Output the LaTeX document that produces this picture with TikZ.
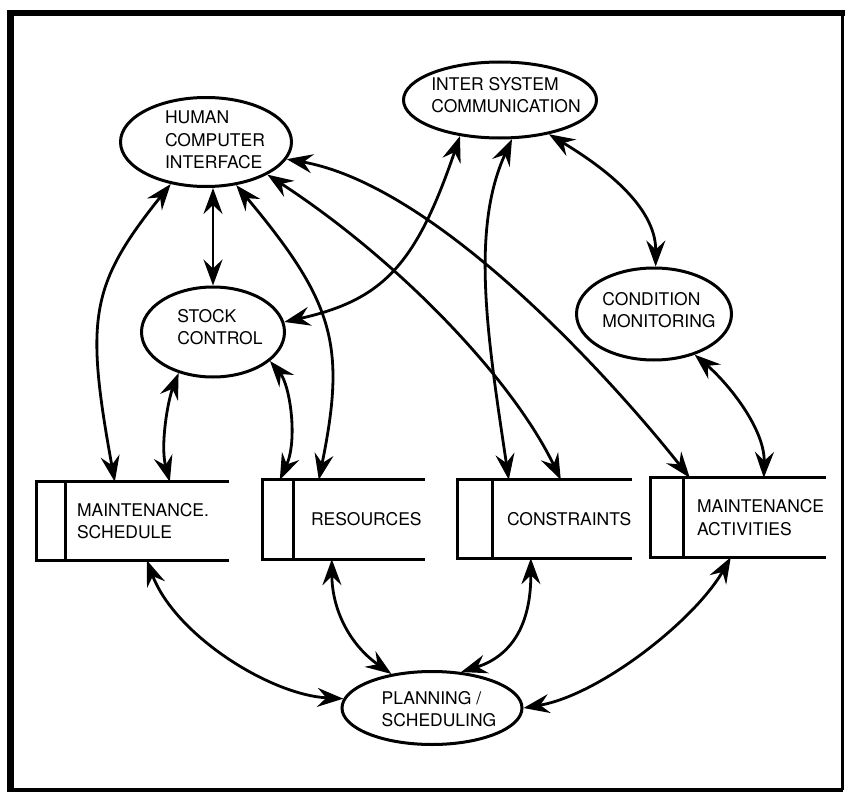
\documentclass[tikz,border=0pt]{standalone}
\usepackage{fontspec}
\setmainfont{TeX Gyre Heros}
\usetikzlibrary{shapes.geometric,arrows.meta,positioning}

\begin{document}
\begin{tikzpicture}[
    x=1pt,y=-1pt,
    process/.style={ellipse,draw,line width=3pt,inner sep=0pt},
    store/.style={rectangle,draw=none,inner sep=0pt},
    procname/.style={align=left,inner sep=0pt,text=black,
      font={\fontsize{17.5}{22.5}\selectfont}},
    storename/.style={procname},
    tip/.tip={Stealth[length=26pt,width=19pt,inset=9pt]},
    flow/.style={line width=2.8pt,tip-tip}
  ]

    % Page and frame
    \useasboundingbox (0,0) rectangle (849,792);
    \fill[white] (0,0) rectangle (849,792);
    \draw[line width=7pt] (10,10) -- (10,792);
    \draw[line width=6pt] (7,13) -- (845,13);
    \draw[line width=3pt] (842,13) -- (842,790);
    \draw[line width=3.5pt] (10,790) -- (843,790);

    % Processes (ellipses) and their names
    \node[process,minimum width=171pt,minimum height=89pt] (hci) at (206,142) {};
    \node[procname] (hci-name) at (215,140) {HUMAN\\COMPUTER\\INTERFACE};
    \node[process,minimum width=143pt,minimum height=90pt] (stock) at (213,332) {};
    \node[procname] (stock-name) at (220,327) {STOCK\\CONTROL};
    \node[process,minimum width=193pt,minimum height=76pt] (isc) at (500,100) {};
    \node[procname] (isc-name) at (506,95) {INTER SYSTEM\\COMMUNICATION};
    \node[process,minimum width=155pt,minimum height=92pt] (cm) at (654,314) {};
    \node[procname] (cm-name) at (659,310) {CONDITION\\MONITORING};
    \node[process,minimum width=180pt,minimum height=73pt] (plan) at (432,708) {};
    \node[procname] (plan-name) at (439,709) {PLANNING /\\SCHEDULING};

    % Data stores (open boxes)
    \node[store,minimum width=192pt,minimum height=78pt] (ms) at (133,521) {};
    \node[storename,right=40pt of ms.west] (ms-name) {MAINTENANCE.\\SCHEDULE};
    \node[store,minimum width=162pt,minimum height=79pt] (res) at (344,519.5) {};
    \node[storename,right=48pt of res.west] (res-name) {RESOURCES};
    \node[store,minimum width=174pt,minimum height=78pt] (con) at (545,519) {};
    \node[storename,right=49pt of con.west] (con-name) {CONSTRAINTS};
    \node[store,minimum width=175pt,minimum height=79pt] (ma) at (738.5,517.5) {};
    \node[storename,right=46pt of ma.west] (ma-name) {MAINTENANCE\\ACTIVITIES};

    \foreach \s/\off in {ms/29,res/31,con/35,ma/33}
      \draw[line width=3pt] (\s.north east) -- (\s.north west) -- (\s.south west) -- (\s.south east)
        ([xshift=\off pt]\s.north west) -- ([xshift=\off pt]\s.south west);

    % Flows from the human computer interface
    \draw[flow] (stock.north) -- (stock.north |- hci.south);
    \draw[flow] (hci.230) .. controls (90,285) and (85,318) .. ([xshift=78pt]ms.north west);
    \draw[flow] (hci.305) .. controls (335,303) and (346,346) .. ([xshift=56pt]res.north west);
    \draw[flow] (hci.332) .. controls (400,261) and (513,380) .. ([xshift=103pt]con.north west);
    \draw[flow] (hci.348) .. controls (440,186) and (619,388) .. ([xshift=39pt]ma.north west);

    % Flows from stock control
    \draw[flow] (stock.230) .. controls (168,400) and (160,445) .. ([xshift=133pt]ms.north west);
    \draw[flow] (stock.333) .. controls (290,385) and (298,440) .. ([xshift=17pt]res.north west);

    % Flows from inter system communication
    \draw[flow] (isc.222) .. controls (416,265) and (383,300) .. (stock.8);
    \draw[flow] (isc.287) .. controls (470,230) and (488,340) .. ([xshift=51pt]con.north west);
    \draw[flow] (isc.325) .. controls (600,165) and (656,205) .. (cm.88);
    \draw[flow] (cm.315) .. controls (730,385) and (765,430) .. ([xshift=113pt]ma.north west);

    % Flows to planning / scheduling
    \draw[flow] ([xshift=110pt]ms.south west) .. controls (175,635) and (270,695) .. (plan.174);
    \draw[flow] ([xshift=69pt]res.south west) .. controls (332,610) and (350,645) .. (plan.140);
    \draw[flow] ([xshift=73pt]con.south west) .. controls (531,620) and (515,655) .. (plan.51);
    \draw[flow] ([xshift=80pt]ma.south west) .. controls (695,620) and (600,695) .. (plan.0);

\end{tikzpicture}
\end{document}
